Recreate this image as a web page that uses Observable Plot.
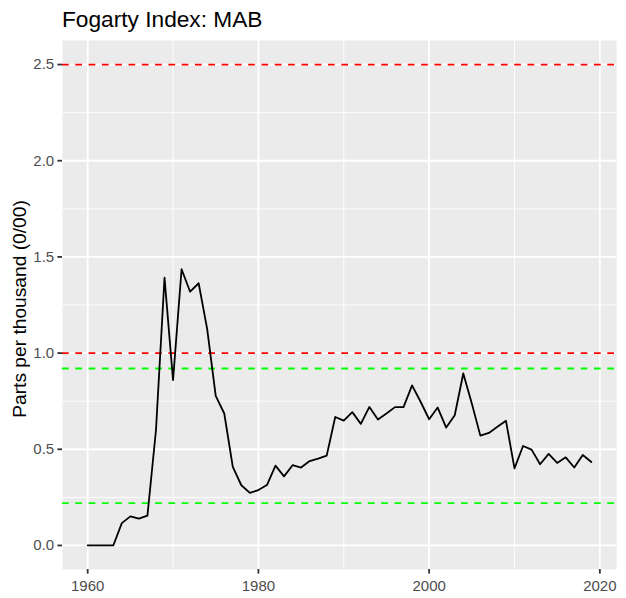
<!DOCTYPE html>
<html>
<head>
<meta charset="utf-8">
<script src="https://cdn.jsdelivr.net/npm/d3@7"></script>
<script src="https://cdn.jsdelivr.net/npm/@observablehq/plot@0.6"></script>
<style>
  body { margin: 0; background: #ffffff; }
  #title {
    height: 40px;
    box-sizing: border-box;
    padding: 8px 0 0 62px;
    font: 22.7px "Liberation Sans", Arial, sans-serif;
    line-height: 22px;
    color: #000000;
  }
  #chart svg g[aria-label$="tick label"] { font-size: 15px; }
</style>
</head>
<body>
<div id="title">Fogarty Index: MAB</div>
<div id="chart"></div>
<script>
// Annual Fogarty index for the Mid-Atlantic Bight (parts per thousand)
const years = [
  1960, 1961, 1962, 1963, 1964, 1965, 1966, 1967, 1968, 1969,
  1970, 1971, 1972, 1973, 1974, 1975, 1976, 1977, 1978, 1979,
  1980, 1981, 1982, 1983, 1984, 1985, 1986, 1987, 1988, 1989,
  1990, 1991, 1992, 1993, 1994, 1995, 1996, 1997, 1998, 1999,
  2000, 2001, 2002, 2003, 2004, 2005, 2006, 2007, 2008, 2009,
  2010, 2011, 2012, 2013, 2014, 2015, 2016, 2017, 2018, 2019
];
const fogarty = [
  0.000, 0.000, 0.000, 0.000, 0.116, 0.151, 0.139, 0.155, 0.599, 1.392,
  0.859, 1.436, 1.319, 1.363, 1.125, 0.778, 0.686, 0.408, 0.313, 0.273,
  0.288, 0.314, 0.415, 0.359, 0.417, 0.405, 0.439, 0.451, 0.467, 0.668,
  0.649, 0.693, 0.632, 0.720, 0.655, 0.686, 0.719, 0.719, 0.832, 0.747,
  0.656, 0.717, 0.613, 0.677, 0.894, 0.738, 0.571, 0.585, 0.617, 0.648,
  0.401, 0.517, 0.498, 0.422, 0.476, 0.429, 0.458, 0.405, 0.470, 0.434
];

// Reference thresholds
const redThresholds = [2.5, 1.0];
const greenThresholds = [0.92, 0.22];

// Axis breaks
const xMajor = [1960, 1980, 2000, 2020];
const xMinor = [1970, 1990, 2010];
const yMajor = [0, 0.5, 1.0, 1.5, 2.0, 2.5];
const yMinor = [0.25, 0.75, 1.25, 1.75, 2.25];
const yTitle = "Parts per thousand (0/00)";

const series = years.map((year, i) => ({year, value: fogarty[i]}));

const font = "'Liberation Sans', Arial, sans-serif";
const dash = "6.7,6.6";

const chart = Plot.plot({
  width: 626,
  height: 558,
  marginLeft: 62,
  marginRight: 10,
  marginTop: 0,
  marginBottom: 29,
  style: {fontFamily: font, fontSize: "15px", background: "#ffffff", overflow: "visible"},
  x: {domain: [1957.05, 2021.95]},
  y: {domain: [-0.125, 2.625]},
  marks: [
    Plot.frame({fill: "#EBEBEB", stroke: null}),
    Plot.ruleX(xMinor, {stroke: "#ffffff", strokeWidth: 0.9}),
    Plot.ruleY(yMinor, {stroke: "#ffffff", strokeWidth: 0.9}),
    Plot.ruleX(xMajor, {stroke: "#ffffff", strokeWidth: 1.8}),
    Plot.ruleY(yMajor, {stroke: "#ffffff", strokeWidth: 1.8}),
    Plot.ruleY(redThresholds, {stroke: "#FF0000", strokeWidth: 1.8, strokeDasharray: dash}),
    Plot.ruleY(greenThresholds, {stroke: "#00FF00", strokeWidth: 1.8, strokeDasharray: dash}),
    Plot.line(series, {x: "year", y: "value", stroke: "#000000", strokeWidth: 1.8}),
    Plot.axisX(xMajor, {
      tickSize: 4.6, tickPadding: 6, stroke: "#333333", strokeWidth: 1.8,
      fill: "#4D4D4D", fontSize: 15, tickFormat: d => String(d), label: null
    }),
    Plot.axisY(yMajor, {
      tickSize: 4.6, tickPadding: 3.7, stroke: "#333333", strokeWidth: 1.8,
      fill: "#4D4D4D", fontSize: 15, tickFormat: d => d.toFixed(1), label: null
    }),
    Plot.text([yTitle], {
      text: d => d, frameAnchor: "left", textAnchor: "middle", rotate: -90, dx: -43, dy: 4,
      fontSize: 19.2, fill: "#000000"
    })
  ]
});

document.getElementById("chart").appendChild(chart);
</script>
</body>
</html>
